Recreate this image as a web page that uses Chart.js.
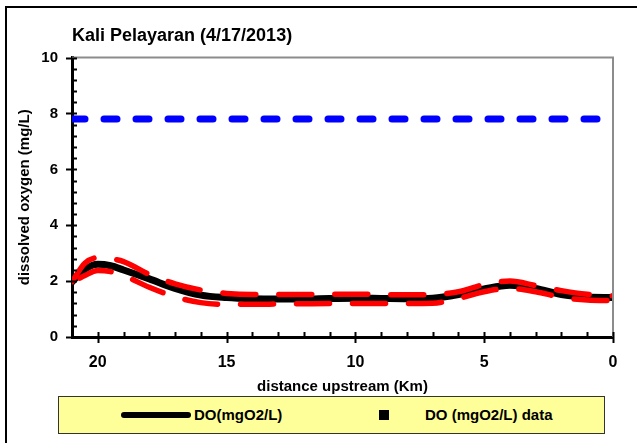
<!DOCTYPE html>
<html>
<head>
<meta charset="utf-8">
<script src="https://cdn.jsdelivr.net/npm/chart.js@4.4.1/dist/chart.umd.min.js"></script>
<style>
  html, body { margin: 0; padding: 0; background: #fff; }
  body {
    width: 637px; height: 443px; position: relative; overflow: hidden;
    font-family: "Liberation Sans", Arial, sans-serif;
  }
  #wrap { position: absolute; left: 0; top: 0; width: 637px; height: 443px; }
  #chart-legend {
    position: absolute; left: 58px; top: 396px; width: 545px; height: 36px;
    background: #ffff99; border: 1px solid #333;
    font-weight: bold; font-size: 15px; color: #000;
  }
  .legend-item { position: absolute; top: 0; height: 36px; line-height: 36px; white-space: nowrap; }
  .legend-line { position: absolute; top: 15px; height: 6px; border-radius: 3px; background: #000; }
  .legend-square { position: absolute; top: 13px; width: 10px; height: 10px; background: #000; }
</style>
</head>
<body>
<div id="wrap"><canvas id="doChart" width="637" height="443"></canvas></div>
<div id="chart-legend"></div>
<script>
// distance upstream (km) of each model point
const distance = [21, 20.5, 20, 19.5, 19, 18, 17, 16, 15, 14, 13, 12, 11, 10, 9, 8, 7, 6, 5, 4, 3, 2, 1, 0];

// DO model (mg/L)
const doModel = [1.97, 2.42, 2.6, 2.55, 2.4, 2.08, 1.74, 1.5, 1.41, 1.37, 1.36, 1.36, 1.38, 1.39, 1.38, 1.37, 1.39, 1.52, 1.72, 1.85, 1.74, 1.52, 1.43, 1.41];

// DO min / max band (red dashed)
const doUpper = [1.98, 2.64, 2.84, 2.8, 2.7, 2.24, 1.9, 1.68, 1.56, 1.52, 1.52, 1.52, 1.53, 1.53, 1.52, 1.51, 1.52, 1.62, 1.88, 2.0, 1.84, 1.66, 1.53, 1.47];
const doLower = [1.95, 2.2, 2.38, 2.34, 2.2, 1.78, 1.44, 1.23, 1.17, 1.17, 1.18, 1.19, 1.2, 1.2, 1.2, 1.2, 1.21, 1.38, 1.62, 1.74, 1.62, 1.42, 1.32, 1.3];

// DO saturation (blue dashed)
const satDistance = [21, 0];
const doSaturation = [7.8, 7.8];

// DO observations (none shown on this date)
const doData = [];

const yTicks = [0, 2, 4, 6, 8, 10];
const xTicks = [20, 15, 10, 5, 0];

const pts = (xs, ys) => xs.map((x, i) => ({ x: x, y: ys[i] }));

const FONT = '"Liberation Sans", Arial, sans-serif';

// outer frame, gray plot border + tick marks
const frameTicks = {
  id: "frameTicks",
  beforeDraw(chart) {
    const { ctx } = chart;
    ctx.save();
    ctx.strokeStyle = "#000";
    ctx.lineWidth = 2;
    ctx.beginPath();
    ctx.moveTo(6, chart.height);
    ctx.lineTo(6, 7);
    ctx.lineTo(chart.width, 7);
    ctx.stroke();
    ctx.restore();
  },
  afterDraw(chart) {
    const { ctx, chartArea: a, scales: { x, y } } = chart;
    ctx.save();
    ctx.strokeStyle = "#8c8c8c";
    ctx.lineWidth = 2;
    ctx.beginPath();
    ctx.moveTo(a.left, a.top);
    ctx.lineTo(a.right, a.top);
    ctx.lineTo(a.right, a.bottom);
    ctx.stroke();

    ctx.strokeStyle = "#000";
    ctx.lineWidth = 2;
    ctx.beginPath();
    for (let i = 0; i <= 25; i++) {
      const py = Math.round(y.getPixelForValue(i * 0.4)) + 0.5;
      const major = i % 5 === 0;
      ctx.moveTo(a.left - (major ? 6 : 0), py);
      ctx.lineTo(a.left + 5, py);
    }
    for (let k = 0; k <= 21; k++) {
      const px = Math.round(x.getPixelForValue(k)) + 0.5;
      const major = k % 5 === 0;
      ctx.moveTo(px, a.bottom + (major ? 6 : 0));
      ctx.lineTo(px, a.bottom - 5);
    }
    ctx.stroke();
    ctx.restore();
  }
};

const ctx = document.getElementById("doChart").getContext("2d");

const chart = new Chart(ctx, {
  type: "line",
  data: {
    datasets: [
      {
        label: "DO(mgO2/L)",
        data: pts(distance, doModel),
        borderColor: "#000",
        borderWidth: 7,
        pointRadius: 0,
        cubicInterpolationMode: "monotone",
        borderCapStyle: "round",
        order: 3
      },
      {
        label: "DO (mgO2/L) data",
        data: doData,
        showLine: false,
        pointStyle: "rect",
        pointRadius: 5,
        backgroundColor: "#000",
        borderColor: "#000",
        order: 0
      },
      {
        label: "DO max",
        data: pts(distance, doUpper),
        borderColor: "#ff0000",
        borderWidth: 5.5,
        borderDash: [33, 23],
        borderCapStyle: "round",
        pointRadius: 0,
        cubicInterpolationMode: "monotone",
        order: 1
      },
      {
        label: "DO min",
        data: pts(distance, doLower),
        borderColor: "#ff0000",
        borderWidth: 5.5,
        borderDash: [33, 23],
        borderDashOffset: -9,
        borderCapStyle: "round",
        pointRadius: 0,
        cubicInterpolationMode: "monotone",
        order: 1
      },
      {
        label: "DO sat",
        data: pts(satDistance, doSaturation),
        borderColor: "#0000ff",
        borderWidth: 7,
        borderDash: [13, 19],
        borderCapStyle: "round",
        pointRadius: 0,
        order: 2
      }
    ]
  },
  options: {
    responsive: false,
    animation: false,
    layout: { padding: { left: 0, right: 24, top: 0, bottom: 47 } },
    plugins: {
      legend: { display: false },
      tooltip: { enabled: false },
      title: {
        display: true,
        text: "Kali Pelayaran (4/17/2013)",
        align: "start",
        fullSize: false,
        color: "#000",
        font: { family: FONT, size: 18, weight: "bold" },
        padding: { top: 25, bottom: 11 }
      }
    },
    scales: {
      x: {
        type: "linear",
        reverse: true,
        min: 0,
        max: 21,
        afterFit: (s) => { s.height = 59; },
        afterBuildTicks: (s) => { s.ticks = xTicks.map((v) => ({ value: v })); },
        grid: { display: false, drawTicks: false },
        border: { display: true, color: "#000", width: 3 },
        ticks: {
          color: "#000",
          padding: 16,
          font: { family: FONT, size: 16, weight: "bold" }
        },
        title: {
          display: true,
          text: "distance upstream (Km)",
          color: "#000",
          padding: 0,
          font: { family: FONT, size: 15, weight: "bold" }
        }
      },
      y: {
        min: 0,
        max: 10,
        afterFit: (s) => { s.width = 72; },
        afterBuildTicks: (s) => { s.ticks = yTicks.map((v) => ({ value: v })); },
        grid: { display: false, drawTicks: false },
        border: { display: true, color: "#000", width: 3 },
        ticks: {
          color: "#000",
          padding: 14,
          font: { family: FONT, size: 15, weight: "bold" }
        },
        title: {
          display: true,
          text: "dissolved oxygen (mg/L)",
          color: "#000",
          padding: { top: 16, bottom: 0 },
          font: { family: FONT, size: 15, weight: "bold" }
        }
      }
    }
  },
  plugins: [frameTicks]
});

// --- Custom Legend ---
const legendContainer = document.getElementById("chart-legend");
const legendItems = [
  { ds: chart.data.datasets[0], left: 62, kind: "line" },
  { ds: chart.data.datasets[1], left: 320, kind: "square" }
];
legendItems.forEach((item) => {
  const marker = document.createElement("span");
  if (item.kind === "line") {
    marker.className = "legend-line";
    marker.style.left = item.left + "px";
    marker.style.width = "70px";
  } else {
    marker.className = "legend-square";
    marker.style.left = item.left + "px";
  }
  legendContainer.appendChild(marker);

  const text = document.createElement("span");
  text.className = "legend-item";
  text.style.left = (item.kind === "line" ? item.left + 73 : item.left + 46) + "px";
  text.textContent = item.ds.label;
  legendContainer.appendChild(text);
});
</script>
</body>
</html>
